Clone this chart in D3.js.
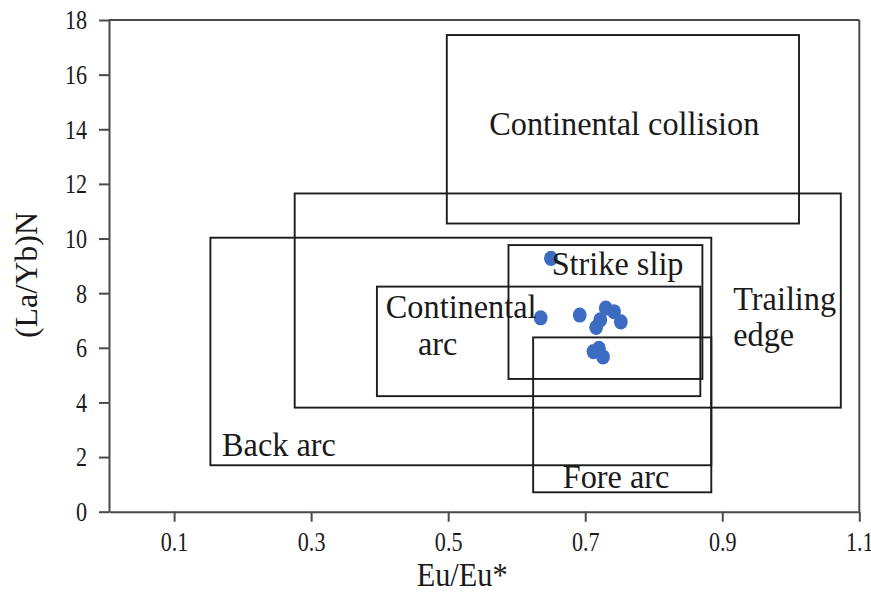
<!DOCTYPE html>
<html>
<head>
<meta charset="utf-8">
<script src="https://cdn.jsdelivr.net/npm/d3@7"></script>
<style>
  html, body { margin: 0; padding: 0; background: #fff; }
  svg { display: block; }
</style>
</head>
<body>
<svg id="chart" width="871" height="594"></svg>
<script>
// Eu/Eu* versus (La/Yb)N tectonic setting fields
const xTicks = [0.1, 0.3, 0.5, 0.7, 0.9, 1.1];
const yTicks = [0, 2, 4, 6, 8, 10, 12, 14, 16, 18];

// field boundaries: [Eu/Eu* min, Eu/Eu* max, (La/Yb)N min, (La/Yb)N max]
const fields = [
  { name: "Continental collision", x0: 0.498, x1: 1.012, y0: 10.55, y1: 17.45 },
  { name: "Trailing edge",         x0: 0.276, x1: 1.073, y0: 3.81,  y1: 11.65 },
  { name: "Back arc",              x0: 0.153, x1: 0.884, y0: 1.70,  y1: 10.03 },
  { name: "Continental arc",       x0: 0.396, x1: 0.868, y0: 4.23,  y1: 8.24 },
  { name: "Strike slip",           x0: 0.588, x1: 0.871, y0: 4.86,  y1: 9.76 },
  { name: "Fore arc",              x0: 0.624, x1: 0.884, y0: 0.71,  y1: 6.38 }
];

// field label lines, anchored in data units
const fieldLabels = [
  { text: "Continental collision", x: 0.757, y: 13.79, anchor: "middle" },
  { text: "Strike slip",           x: 0.651, y: 8.66,  anchor: "start" },
  { text: "Continental",           x: 0.409, y: 7.08,  anchor: "start" },
  { text: "arc",                   x: 0.456, y: 5.72,  anchor: "start" },
  { text: "Trailing",              x: 0.916, y: 7.38,  anchor: "start" },
  { text: "edge",                  x: 0.916, y: 6.05,  anchor: "start" },
  { text: "Back arc",              x: 0.170, y: 2.03,  anchor: "start" },
  { text: "Fore arc",              x: 0.745, y: 0.85,  anchor: "middle" }
];

// samples
const euEu = [0.650, 0.635, 0.692, 0.730, 0.742, 0.722, 0.716, 0.752, 0.720, 0.712, 0.726];
const laYb = [9.27, 7.10, 7.20, 7.45, 7.32, 7.02, 6.75, 6.95, 5.98, 5.86, 5.67];

const serif = "'Liberation Serif', 'DejaVu Serif', serif";
const ink = "#1a1a1a";

const svg = d3.select("#chart");

const x = d3.scaleLinear().domain([0.005, 1.1]).range([109, 859.3]);
const y = d3.scaleLinear().domain([0, 18]).range([511.7, 20]);

const axisColor = "#4a4a4a";
const boxColor = "#1c1c1c";

// fields
svg.append("g").selectAll("rect")
  .data(fields)
  .join("rect")
  .attr("x", d => x(d.x0))
  .attr("y", d => y(d.y1))
  .attr("width", d => x(d.x1) - x(d.x0))
  .attr("height", d => y(d.y0) - y(d.y1))
  .attr("fill", "none")
  .attr("stroke", boxColor)
  .attr("stroke-width", 1.9);

// frame top and right
svg.append("line")
  .attr("x1", x(0.005)).attr("x2", x(1.1))
  .attr("y1", y(18)).attr("y2", y(18))
  .attr("stroke", axisColor).attr("stroke-width", 2);
svg.append("line")
  .attr("x1", x(1.1)).attr("x2", x(1.1))
  .attr("y1", y(18)).attr("y2", y(0))
  .attr("stroke", axisColor).attr("stroke-width", 2);

// narrow the serif glyphs horizontally
function squeeze(sel, sx) {
  sel.each(function () {
    const t = d3.select(this);
    const ox = +t.attr("x") || 0;
    t.attr("x", ox / sx).attr("transform", `scale(${sx},1)`);
  });
}

const tickScaleX = 0.82;

const gx = svg.append("g")
  .attr("transform", `translate(0,${y(0)})`)
  .call(d3.axisBottom(x).tickValues(xTicks).tickFormat(d3.format(".1f"))
    .tickSize(10).tickSizeOuter(0).tickPadding(13));
const gy = svg.append("g")
  .attr("transform", `translate(${x(0.005)},0)`)
  .call(d3.axisLeft(y).tickValues(yTicks).tickFormat(d3.format("d"))
    .tickSize(10).tickSizeOuter(0).tickPadding(12));

[gx, gy].forEach(g => {
  g.attr("font-family", serif);
  g.select(".domain").attr("stroke", axisColor).attr("stroke-width", 2);
  g.selectAll(".tick line").attr("stroke", axisColor).attr("stroke-width", 2);
  g.selectAll(".tick text")
    .attr("font-family", serif)
    .attr("font-size", 27)
    .attr("fill", ink);
});
gx.selectAll(".tick text").attr("dy", "0.62em");
gy.selectAll(".tick text").attr("dy", "0.33em");
squeeze(gx.selectAll(".tick text"), tickScaleX);
squeeze(gy.selectAll(".tick text"), tickScaleX);

// samples
svg.append("g").selectAll("ellipse")
  .data(euEu.map((v, i) => [v, laYb[i]]))
  .join("ellipse")
  .attr("cx", d => x(d[0]))
  .attr("cy", d => y(d[1]))
  .attr("rx", 6.9)
  .attr("ry", 7.6)
  .attr("fill", "#3b6cc2");

// field labels
const labelScaleX = 0.95;
svg.append("g").selectAll("text")
  .data(fieldLabels)
  .join("text")
  .attr("transform", d => `translate(${x(d.x)},${y(d.y)}) scale(${labelScaleX},1)`)
  .attr("text-anchor", d => d.anchor)
  .attr("font-family", serif)
  .attr("font-size", 34)
  .attr("fill", ink)
  .text(d => d.text);

// axis titles
svg.append("text")
  .attr("transform", `translate(${x(0.5) + 14},586) scale(0.92,1)`)
  .attr("text-anchor", "middle")
  .attr("font-family", serif)
  .attr("font-size", 33)
  .attr("fill", ink)
  .text("Eu/Eu*");

svg.append("text")
  .attr("transform", `translate(37,275) rotate(-90)`)
  .attr("text-anchor", "middle")
  .attr("font-family", serif)
  .attr("font-size", 32)
  .attr("fill", ink)
  .text("(La/Yb)N");
</script>
</body>
</html>
